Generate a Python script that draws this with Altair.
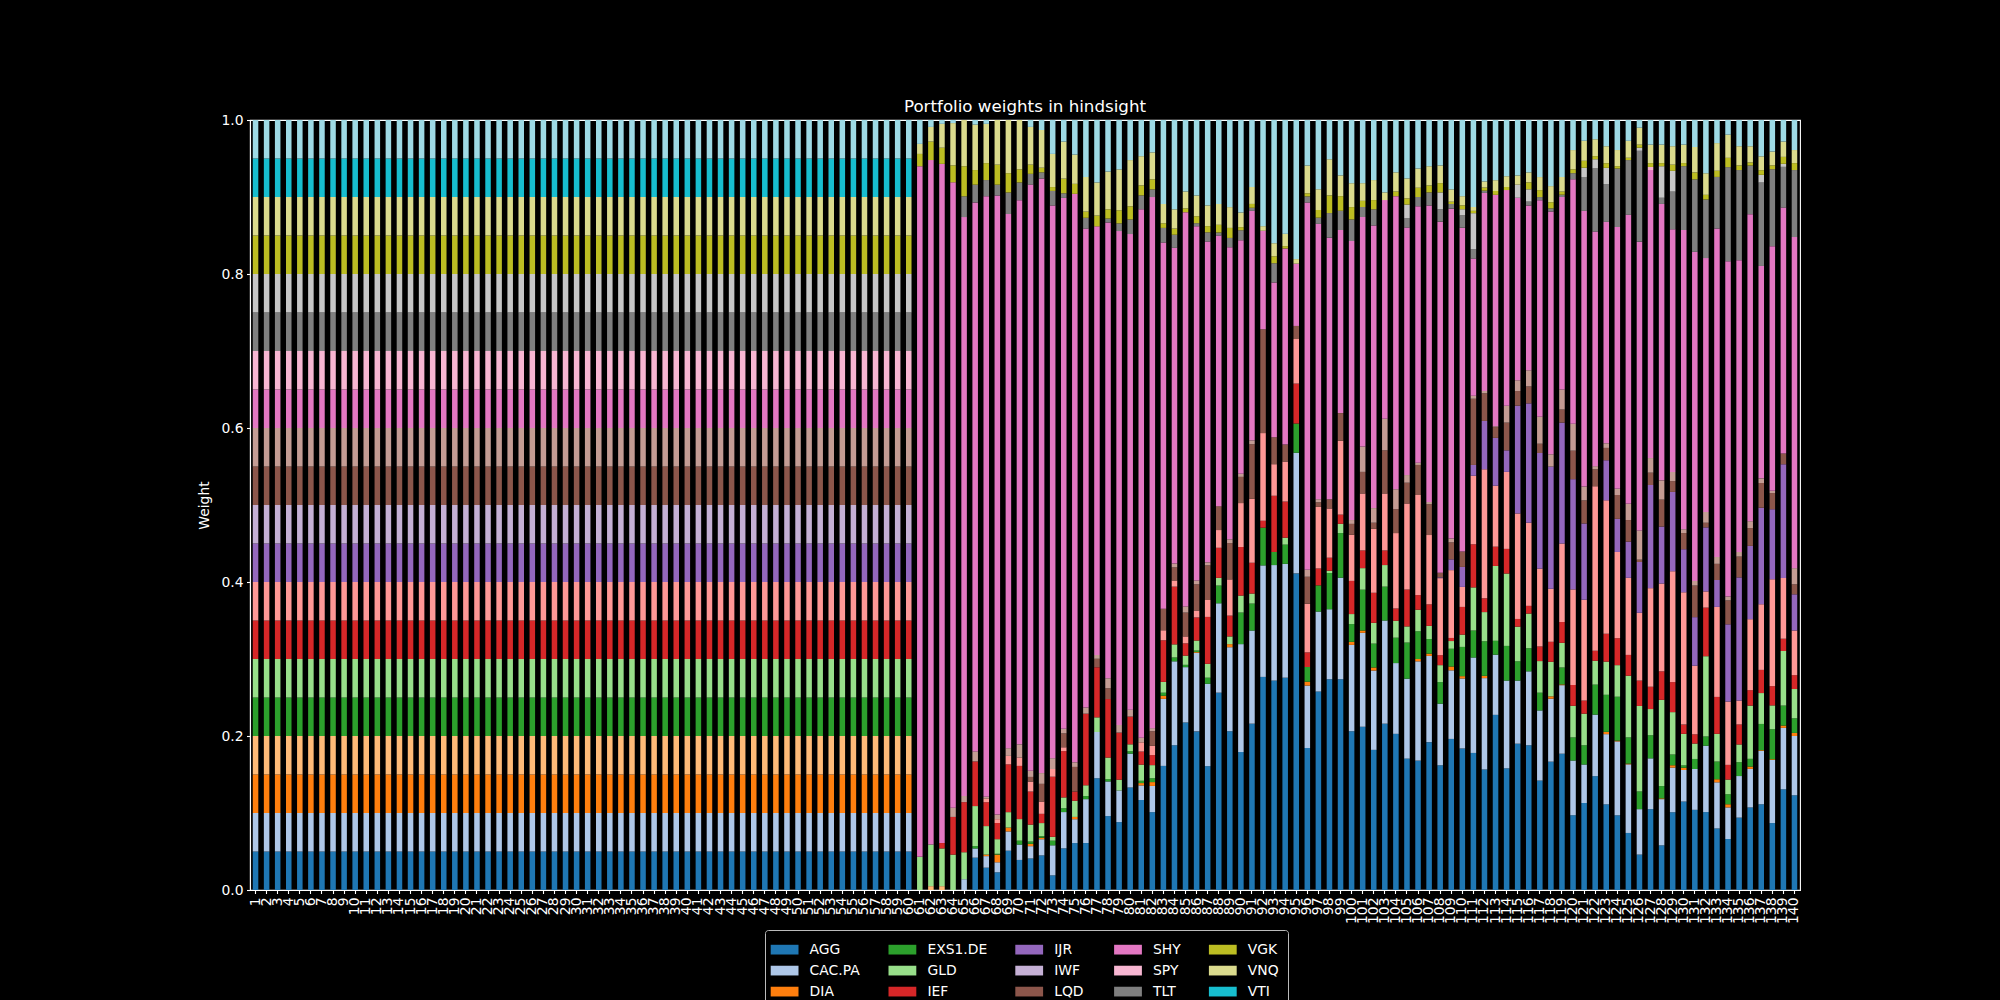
import altair as alt
import pandas as pd

# ---- assets (matplotlib tab20 order, bottom of the stack first) ----
ASSETS = ["AGG", "CAC.PA", "DIA", "EEM", "EXS1.DE", "GLD", "IEF", "IJH", "IJR", "IWF",
          "LQD", "MBB", "SHY", "SPY", "TLT", "VEA", "VGK", "VNQ", "VTI", "VWO"]
COLORS = ["#1f77b4", "#aec7e8", "#ff7f0e", "#ffbb78", "#2ca02c", "#98df8a", "#d62728", "#ff9896",
          "#9467bd", "#c5b0d5", "#8c564b", "#c49c94", "#e377c2", "#f7b6d2", "#7f7f7f", "#c7c7c7",
          "#bcbd22", "#dbdb8d", "#17becf", "#9edae5"]

# days 1-60: equal weights
N_EQUAL = 60
EQUAL_WEIGHT = 0.05

# days 61-140 (10 values per line)
AGG_R = [0, 0, 0, 0, 0, .042, .029, .023, .051, .039,
         .041, .045, .019, .054, .061, .061, .145, .096, .088, .133,
         .117, .101, .161, .188, .218, .206, .161, .256, .206, .179,
         .216, .277, .272, .276, .412, .184, .258, .274, .274, .206,
         .212, .182, .216, .203, .171, .168, .192, .162, .196, .184,
         .178, .157, .227, .158, .190, .188, .142, .167, .177, .097,
         .113, .148, .111, .097, .074, .046, .105, .058, .101, .115,
         .104, .101, .080, .066, .094, .107, .111, .087, .131, .123]
CAC_R = [0, 0, 0, 0, .014, .012, .015, .013, .025, .020,
         .016, .021, .039, .047, .031, .057, .060, .045, .041, .044,
         .019, .034, .087, .109, .072, .102, .107, .116, .109, .140,
         .121, .145, .150, .148, .157, .081, .104, .091, .132, .112,
         .122, .103, .134, .092, .104, .129, .112, .080, .089, .091,
         .124, .119, .078, .114, .082, .096, .091, .082, .089, .071,
         .050, .080, .091, .096, .089, .059, .066, .060, .058, .041,
         .053, .086, .060, .041, .054, .050, .069, .082, .080, .077]
DIA_R = [0, 0, 0, 0, 0, 0, .002, .010, .005, 0,
         .003, .002, 0, 0, .003, 0, 0, 0, 0, 0,
         .003, .005, .004, 0, 0, .001, 0, 0, .004, 0,
         0, 0, 0, 0, 0, .005, 0, 0, 0, .004,
         .003, .004, 0, 0, 0, .003, .003, 0, .005, .003,
         0, .003, 0, 0, 0, 0, 0, .003, .001, 0,
         0, 0, .003, .001, .001, 0, 0, .001, .003, .003,
         0, 0, .004, .004, 0, .003, .001, .001, .003, .004]
EEM_R = [0, .005, .005, 0, 0, 0, 0, 0, 0, 0,
         0, 0, 0, 0, 0, 0, 0, 0, 0, 0,
         0, 0, 0, 0, 0, 0, 0, 0, 0, 0,
         0, 0, 0, 0, 0, 0, 0, 0, 0, 0,
         0, 0, 0, 0, 0, 0, 0, 0, 0, 0,
         0, 0, 0, 0, 0, 0, 0, 0, 0, 0,
         0, 0, 0, 0, 0, 0, 0, 0, 0, 0,
         0, 0, 0, 0, 0, 0, 0, 0, 0, 0]
EXS_R = [0, 0, 0, 0, 0, .003, 0, .001, 0, .005,
         .003, .002, .006, .005, 0, .004, 0, .003, 0, .003,
         .003, .005, .004, .005, .003, .002, .008, .023, 0, .041,
         .035, .049, .017, .025, .038, .019, .034, .047, .058, .023,
         .053, .031, .044, .033, .047, .036, .019, .028, .023, .038,
         .035, .045, .018, .045, .025, .030, .023, 0, .022, .030,
         .025, .039, .048, .057, .034, .023, .030, .016, .014, .003,
         .013, .012, .023, .013, .018, .010, .034, .039, .026, .019]
GLD_R = [.043, .054, .049, .046, .035, .052, .037, .019, .020, .028,
         .022, .017, .005, .014, .021, .014, .019, .028, .014, .009,
         .021, .017, .014, .017, .012, .013, .018, .010, .010, .022,
         .013, 0, 0, .009, 0, 0, 0, .003, .012, .013,
         .028, .027, .028, .022, .021, .028, .017, .022, .010, .016,
         .056, .038, .097, .094, .045, .045, .041, .045, .032, .041,
         .041, .031, .043, .041, .080, .111, .034, .112, .055, .041,
         .020, .104, .036, .019, .023, .069, .040, .031, .071, .038]
IEF_R = [0, 0, .007, .049, .065, .058, .031, .021, .062, .069,
         .043, .012, .078, .060, .012, .093, .065, .076, .061, .036,
         .017, .013, .054, .075, .016, .030, .061, .039, .027, .063,
         .040, .009, .073, .047, .052, .019, .022, .017, .012, .043,
         .023, .039, .019, .016, .048, .019, .028, .013, .004, .036,
         .056, .018, .025, .032, .010, .010, .019, .026, .027, .027,
         .017, .013, .036, .035, .027, .033, .029, .037, .039, .012,
         .012, .063, .048, .019, .026, .020, .030, .025, .016, .018]
IJH_R = [0, 0, 0, 0, 0, 0, .005, .005, .011, .011,
         .013, .016, .010, .005, 0, 0, 0, 0, 0, 0,
         .012, .012, .013, .008, .009, .009, .022, .023, .047, .057,
         .083, .114, .041, .052, .058, .063, .080, .064, .096, .060,
         .074, .083, .074, .098, .112, .130, .090, .100, .088, .026,
         .089, .168, .079, .100, .137, .108, .101, .069, .102, .124,
         .131, .214, .173, .112, .100, .088, .128, .114, .144, .172,
         .089, .021, .117, .082, .031, .092, .085, .139, .079, .058]
IJR_R = [0, 0, 0, 0, 0, 0, 0, 0, 0, 0,
         0, 0, 0, 0, 0, 0, 0, 0, 0, 0,
         0, 0, 0, 0, 0, 0, 0, 0, 0, 0,
         0, 0, 0, 0, 0, 0, 0, 0, 0, 0,
         0, 0, 0, 0, 0, 0, 0, .001, .014, .026,
         .014, .063, .062, .028, .140, .155, .150, .159, .157, .143,
         .099, 0, .052, .043, .047, .066, .134, .074, .103, .056,
         .063, .083, .035, .100, .160, .095, .125, .091, .148, .047]
IWF_R = [0.0] * 80
LQD_R = [0, 0, 0, 0, 0, 0, 0, 0, 0, 0,
         .006, .023, 0, .018, .032, 0, .011, .014, 0, 0,
         0, .019, .028, .017, .031, .034, .045, .031, .047, .034,
         .071, .135, .035, .022, .017, .035, .006, .012, .036, .014,
         .028, .008, .056, .031, .027, .039, .040, .006, .022, .020,
         .086, .036, .014, .036, .019, .022, .012, 0, .017, .037,
         .030, .022, .016, .031, .028, .003, .016, .035, .014, .021,
         .041, .006, .021, .031, .027, .023, .032, .021, .014, .013]
MBB_R = [0, 0, 0, .012, .008, .013, .002, .006, .010, .017,
         .008, .014, .014, .006, .006, .008, .005, .013, .010, .009,
         .006, .004, 0, .005, .008, .005, .004, 0, .005, .004,
         .005, 0, 0, 0, 0, .009, .004, 0, 0, .005,
         .033, .019, .041, .026, .010, .003, .003, 0, .005, 0,
         .004, .003, .001, .022, .014, .021, .035, .016, .026, .035,
         .018, .004, .006, .008, .021, .038, .019, .025, .012, .005,
         .006, .014, .009, .005, .006, .009, .006, .003, 0, .021]
SHY_R = [.896, .888, .882, .813, .751, .713, .780, .804, .693, .706,
         .762, .773, .717, .688, .739, .622, .556, .592, .640, .617,
         .687, .689, .475, .410, .513, .460, .417, .351, .379, .303,
         .298, .128, .201, .255, .081, .476, .358, .340, .238, .362,
         .298, .367, .284, .381, .322, .333, .385, .456, .428, .421,
         .178, .258, .300, .280, .237, .214, .281, .316, .250, .317,
         .358, .305, .287, .340, .375, .375, .374, .359, .315, .389,
         .427, .329, .427, .434, .379, .398, .275, .318, .320, .430]
SPY_R = [0, 0, 0, 0, 0, 0, 0, 0, 0, 0,
         0, 0, 0, 0, 0, 0, 0, 0, 0, 0,
         0, 0, 0, 0, 0, 0, 0, 0, 0, 0,
         0, 0, 0, 0, 0, 0, 0, 0, 0, 0,
         0, 0, 0, 0, 0, 0, 0, 0, 0, 0,
         0, 0, 0, 0, 0, 0, 0, 0, 0, 0,
         0, 0, 0, 0, 0, 0, .004, 0, 0, 0,
         0, 0, 0, 0, 0, 0, 0, 0, 0, 0]
TLT_R = [0, 0, 0, 0, .027, .023, .021, .014, .028, .023,
         .014, .008, .019, .006, 0, .014, 0, .005, .010, .019,
         .018, .010, .019, .017, 0, .004, .012, .004, .012, .013,
         .004, 0, .025, 0, 0, .008, .008, .032, .025, .028,
         .013, .021, 0, 0, .012, .012, .017, .016, .006, .016,
         .012, .003, 0, 0, 0, .005, .004, .004, .003, .008,
         .044, .082, .049, .076, .071, .118, 0, .008, .049, .083,
         .094, .076, .067, .122, .117, .063, .108, .100, .053, .087]
VEA_R = [0, 0, 0, 0, 0, 0, 0, 0, 0, 0,
         0, 0, 0, 0, 0, 0, 0, 0, 0, 0,
         0, 0, 0, 0, 0, 0, 0, 0, 0, 0,
         0, 0, 0, 0, 0, 0, 0, 0, 0, 0,
         0, 0, 0, 0, .018, 0, 0, .022, 0, .008,
         .047, 0, 0, 0, .017, .016, 0, 0, 0, 0,
         .012, .012, .021, 0, 0, .004, 0, .041, .027, 0,
         0, 0, 0, 0, 0, 0, .010, 0, .004, 0]
VGK_R = [.016, .024, .021, .022, .039, .019, .022, .026, .025, .017,
         .012, .006, .005, .019, .013, .008, .014, .012, .017, .017,
         .013, .013, .006, .008, .005, .009, .008, .010, .013, .004,
         .005, 0, .009, .003, 0, .004, .010, .023, .019, .016,
         .008, .012, 0, .006, .008, .012, .009, .012, .003, .005,
         .003, .004, .005, .004, 0, .009, .009, .008, .004, .005,
         .009, .004, .006, .003, .003, .004, .005, .004, .008, .004,
         .009, .006, .008, .012, .006, .004, .006, .005, .009, .009]
VNQ_R = [.013, .019, .031, .055, .060, .059, .051, .058, .069, .064,
         .049, .049, .043, .048, .038, .045, .043, .049, .053, .060,
         .038, .035, .025, .025, .022, .027, .027, .027, .027, .019,
         .022, .006, .017, .016, .006, .036, .027, .047, .027, .031,
         .023, .026, .010, .025, .026, .025, .025, .023, .016, .012,
         .005, .008, .014, .014, .012, .013, .017, .021, .019, .025,
         .026, .022, .022, .021, .022, .022, .024, .024, .024, .024,
         .033, .028, .036, .030, .025, .021, .018, .018, .020, .017]
VTI_R = [0.0] * 80
VWO_R = [.031, .009, .005, .004, 0, .006, .005, 0, 0, 0,
         .009, .013, .044, .028, .045, .074, .081, .067, .064, .052,
         .047, .042, .109, .116, .093, .098, .111, .109, .113, .120,
         .087, .138, .160, .148, .181, .059, .090, .051, .072, .082,
         .082, .078, .094, .068, .076, .063, .060, .059, .090, .099,
         .113, .080, .078, .073, .072, .068, .074, .086, .074, .039,
         .027, .025, .034, .039, .027, .010, .032, .032, .034, .032,
         .035, .069, .030, .019, .034, .034, .047, .041, .028, .039]

RECENT = [AGG_R, CAC_R, DIA_R, EEM_R, EXS_R, GLD_R, IEF_R, IJH_R, IJR_R, IWF_R,
          LQD_R, MBB_R, SHY_R, SPY_R, TLT_R, VEA_R, VGK_R, VNQ_R, VTI_R, VWO_R]

rows = []
for k, (asset, recent) in enumerate(zip(ASSETS, RECENT)):
    weights = [EQUAL_WEIGHT] * N_EQUAL + list(recent)
    for day, w in enumerate(weights, start=1):
        rows.append({"day": day, "asset": asset, "weight": w, "k": k})
df = pd.DataFrame(rows)

FONT = "DejaVu Sans"
FS = 13.9

chart = alt.Chart(df).mark_bar(strokeWidth=0, opacity=1).encode(
    x=alt.X("day:O", title="Trading day",
            scale=alt.Scale(paddingInner=0.5, paddingOuter=0.25),
            axis=alt.Axis(labelAngle=270, labelOverlap=False, labelBound=False,
                          labelFont=FONT, labelFontSize=FS, labelColor="white", labelPadding=3.5,
                          tickSize=3.5, tickWidth=1.1, tickColor="white",
                          domainColor="white", domainWidth=1.1,
                          titleFont=FONT, titleFontSize=FS, titleFontWeight="normal",
                          titleColor="white", titlePadding=6)),
    y=alt.Y("weight:Q", stack="normalize", title="Weight",
            scale=alt.Scale(domain=[0, 1], nice=False),
            axis=alt.Axis(values=[0, 0.2, 0.4, 0.6, 0.8, 1.0],
                          labelExpr="format(datum.value, '.1f')", grid=False,
                          labelFont=FONT, labelFontSize=FS, labelColor="white", labelPadding=3.5,
                          tickSize=3.5, tickWidth=1.1, tickColor="white",
                          domainColor="white", domainWidth=1.1,
                          titleFont=FONT, titleFontSize=FS, titleFontWeight="normal",
                          titleColor="white", titleAngle=270, titleX=-46, titleY=385,
                          titleAlign="center", titleBaseline="middle")),
    color=alt.Color("asset:N",
                    scale=alt.Scale(domain=ASSETS, range=COLORS),
                    legend=alt.Legend(title=None, orient="none", legendX=515, legendY=810,
                                      columns=5, columnPadding=27.8, rowPadding=0,
                                      symbolType="M-1,-0.35H1V0.35H-1Z", symbolSize=773,
                                      symbolStrokeWidth=0, symbolOpacity=1,
                                      labelFont=FONT, labelFontSize=FS, labelColor="white",
                                      labelOffset=11, padding=5.6,
                                      strokeColor="#bbbbbb", fillColor="black",
                                      cornerRadius=3)),
    order=alt.Order("k:Q", sort="ascending"),
).properties(
    width=1550, height=770,
    title=alt.Title("Portfolio weights in hindsight", font=FONT, fontSize=16.7,
                    fontWeight="normal", color="white", anchor="middle",
                    offset=8, baseline="alphabetic", dy=24),
    autosize=alt.AutoSizeParams(type="none"),
    padding={"left": 250, "top": 120, "right": 200, "bottom": 110},
    background="black",
).configure_view(stroke="white", strokeWidth=1.1)

chart.save("out.html", embed_options={"renderer": "svg", "actions": False})
